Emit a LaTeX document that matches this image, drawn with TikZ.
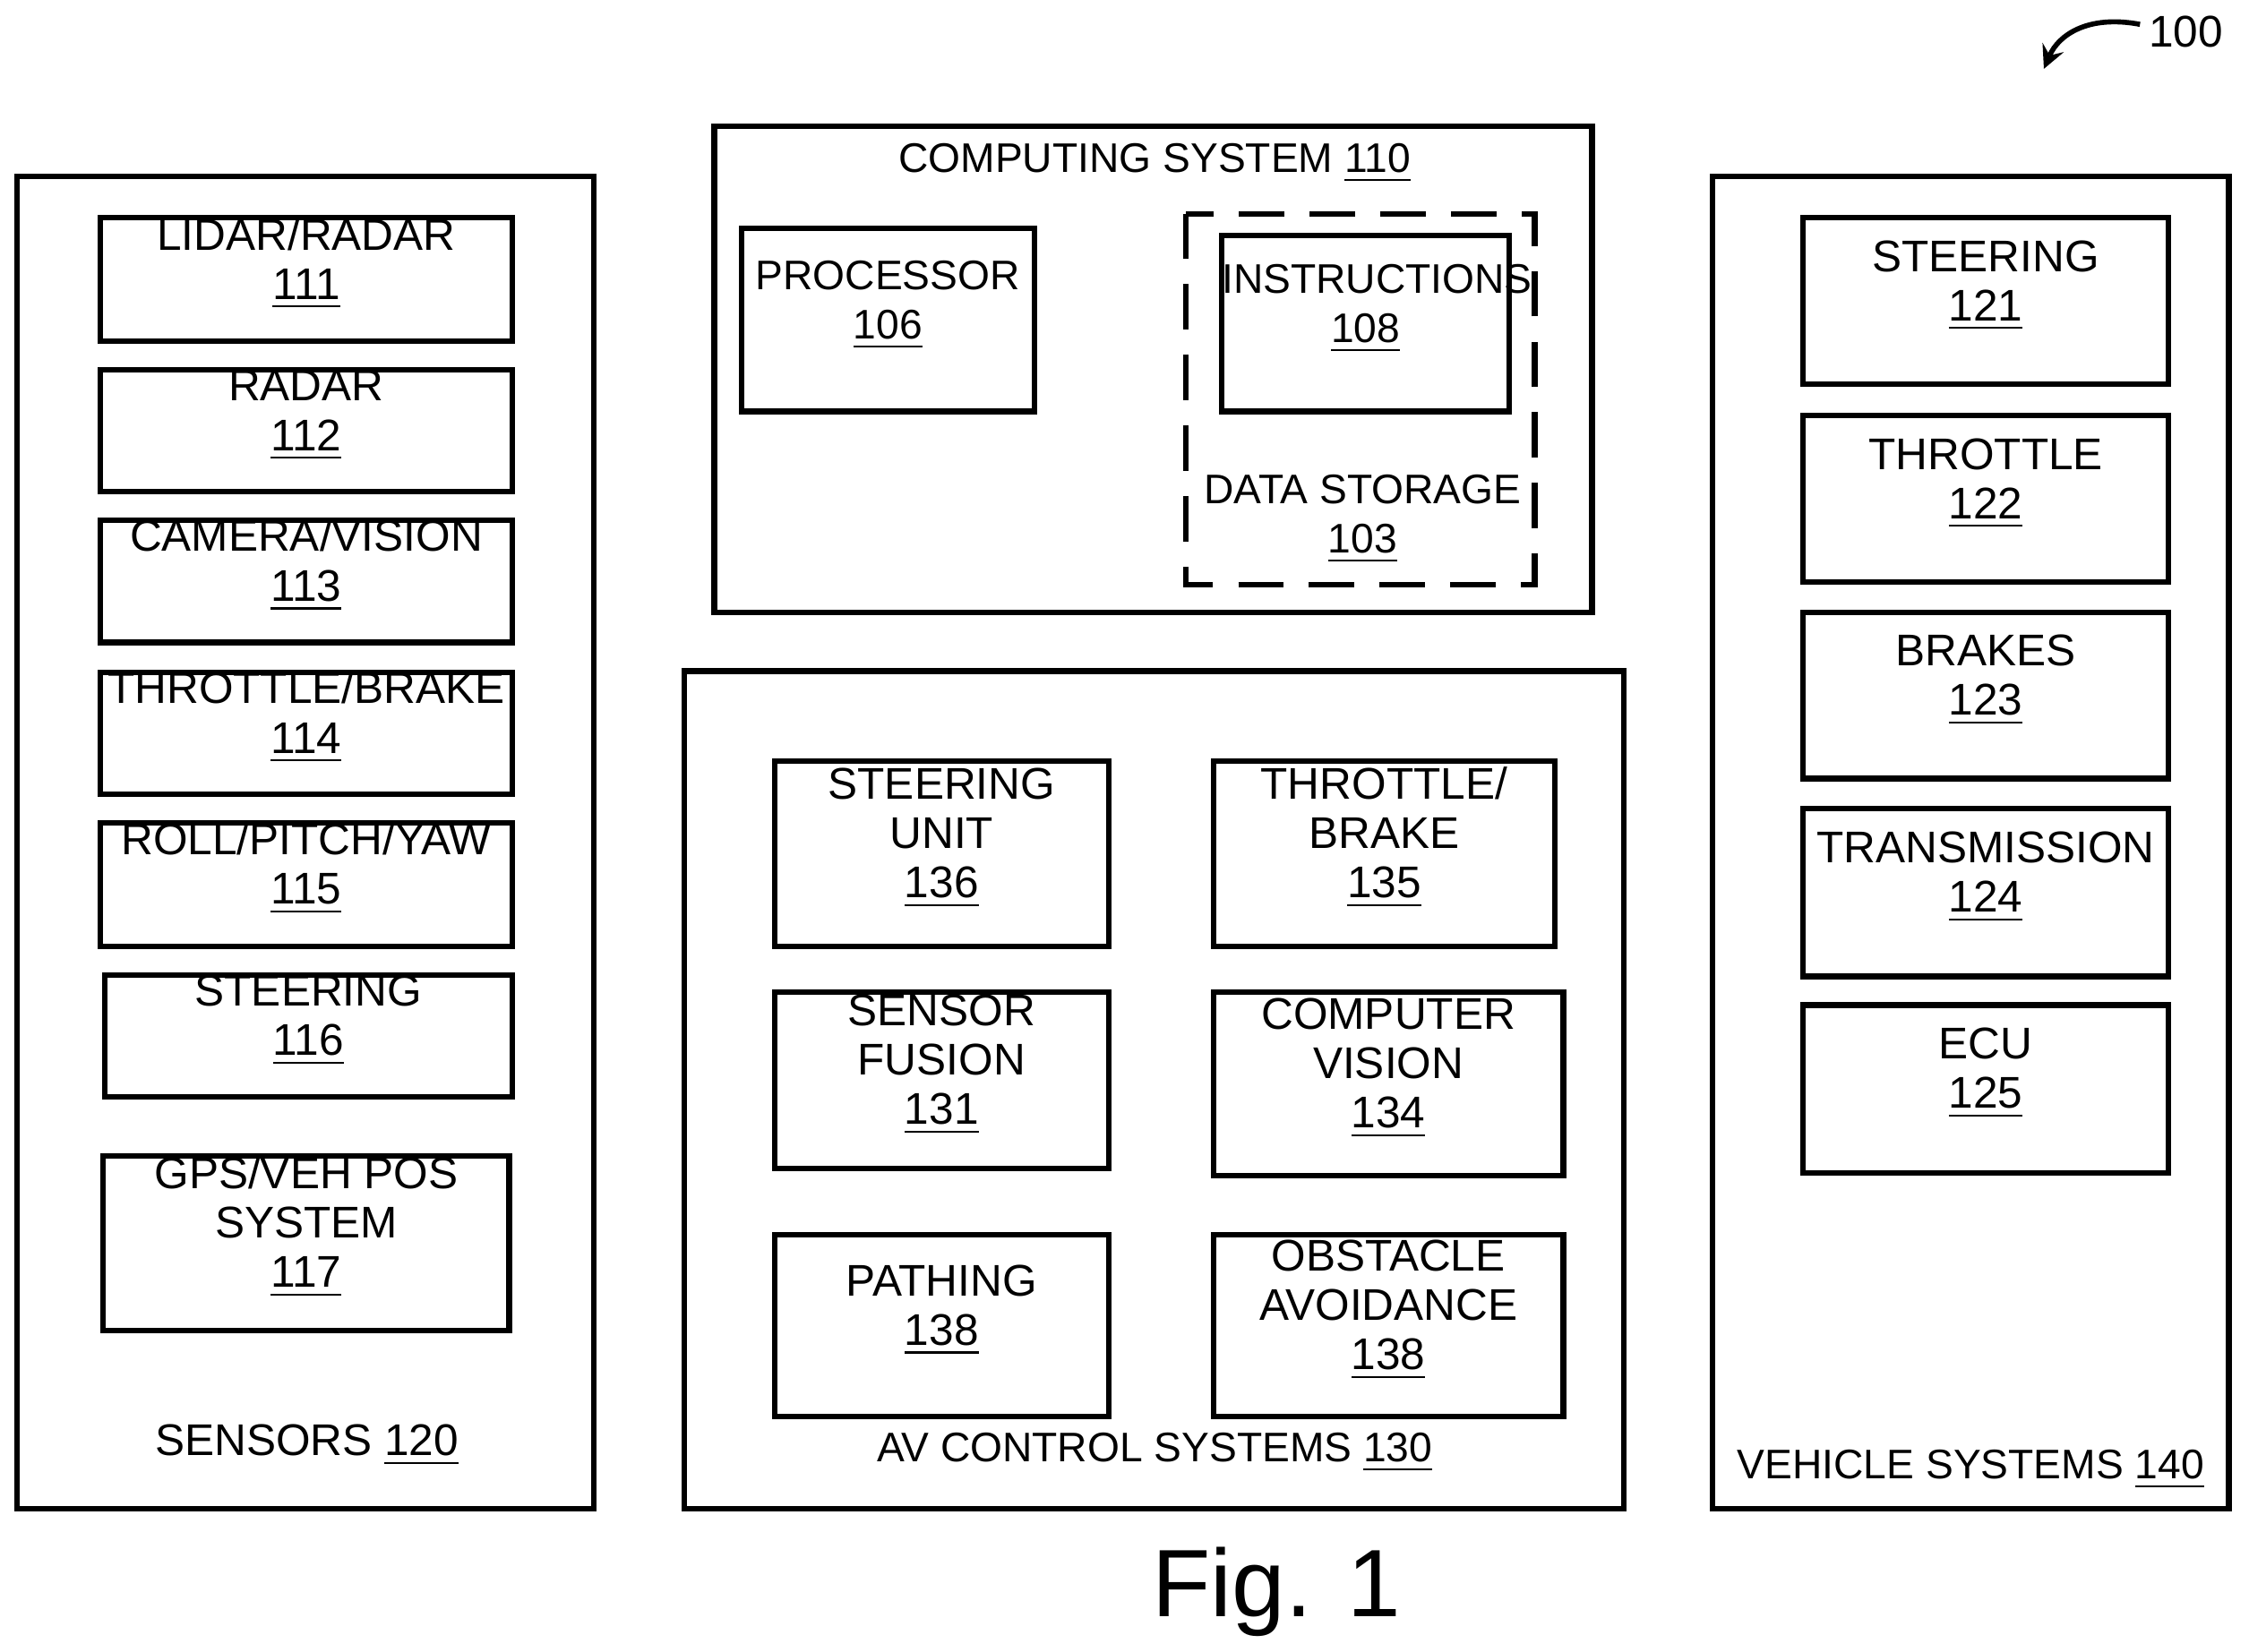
\documentclass[tikz,border=0pt]{standalone}
\usepackage{fontspec}
\setmainfont{Liberation Sans}
\usetikzlibrary{fit}
\newcommand{\num}[1]{\underline{#1}}
\tikzset{
  box/.style={draw, line width=1.1pt, inner sep=0pt, align=center, font=\fontsize{8.8}{9.8}\selectfont},
  narrow/.style={font=\fontsize{8.2}{9.8}\selectfont},
  lbl/.style={align=center, font=\fontsize{8.8}{9.8}\selectfont}
}
\newcommand{\blk}[6][]{%
  \coordinate (#2a) at (#3);
  \coordinate (#2b) at (#4);
  \node[box,#1,fit={(#2a)(#2b)}] (#2) {#5};
  #6}
\begin{document}
\begin{tikzpicture}[x=0.01cm,y=-0.01cm]
  \useasboundingbox (0,0) rectangle (1568,1152);

  % sensors
  \draw[line width=1.1pt] (12,123) rectangle (414,1052);
  \blk{lidar}{70,152}{357,238}{LIDAR/RADAR\\\num{111}}{}
  \blk{radar}{70,258}{357,343}{RADAR\\\num{112}}{}
  \blk{camera}{70,363}{357,448}{CAMERA/VISION\\\num{113}}{}
  \blk{thrbrk}{70,469}{357,554}{THROTTLE/BRAKE\\\num{114}}{}
  \blk{roll}{70,574}{357,660}{ROLL/PITCH/YAW\\\num{115}}{}
  \blk{steer}{73,680}{357,765}{STEERING\\\num{116}}{}
  \blk{gps}{72,806}{355,928}{GPS/VEH POS\\SYSTEM\\\num{117}}{}
  \node[lbl] (sensors) at (214,1008) {SENSORS \num{120}};

  % computing system
  \draw[line width=1.1pt] (498,88) rectangle (1110,427);
  \node[lbl,narrow] (comp) at (805,114) {COMPUTING SYSTEM \num{110}};
  \blk[narrow]{proc}{517,159}{721,287}{PROCESSOR\\\num{106}}{}
  \draw[line width=1.1pt, dash pattern=on 9pt off 5pt] (827,149) rectangle (1070,408);
  \blk[narrow]{instr}{852,164}{1052,287}{INSTRUCTIONS\\\num{108}}{}
  \node[lbl,narrow] (storage) at (950,362) {DATA STORAGE\\\num{103}};

  % av control systems
  \draw[line width=1.1pt] (477,468) rectangle (1132,1052);
  \blk{unit}{540,531}{773,660}{STEERING\\UNIT\\\num{136}}{}
  \blk{avtb}{846,531}{1084,660}{THROTTLE/\\BRAKE\\\num{135}}{}
  \blk{fusion}{540,692}{773,815}{SENSOR\\FUSION\\\num{131}}{}
  \blk{vision}{846,692}{1090,820}{COMPUTER\\VISION\\\num{134}}{}
  \blk{path}{540,861}{773,988}{PATHING\\\num{138}}{}
  \blk{obst}{846,861}{1090,988}{OBSTACLE\\AVOIDANCE\\\num{138}}{}
  \node[lbl,narrow] (av) at (805,1013) {AV CONTROL SYSTEMS \num{130}};

  % vehicle systems
  \draw[line width=1.1pt] (1194,123) rectangle (1554,1052);
  \blk{vsteer}{1257,152}{1512,268}{STEERING\\\num{121}}{}
  \blk{vthr}{1257,290}{1512,406}{THROTTLE\\\num{122}}{}
  \blk{brakes}{1257,427}{1512,543}{BRAKES\\\num{123}}{}
  \blk{trans}{1257,564}{1512,681}{TRANSMISSION\\\num{124}}{}
  \blk{ecu}{1257,701}{1512,818}{ECU\\\num{125}}{}
  \node[lbl,narrow] (vehicle) at (1374,1025) {VEHICLE SYSTEMS \num{140}};

  % reference numeral
  \node[lbl] (ref) at (1524,22) {100};
  \coordinate (tail) at (1492,17);
  \draw[line width=1pt,-stealth] (tail) .. controls (1455,10) and (1435,25) .. (1425,48);

  \node[font=\fontsize{19}{22}\selectfont] (fig) at (890,1110) {Fig. 1};
\end{tikzpicture}
\end{document}
